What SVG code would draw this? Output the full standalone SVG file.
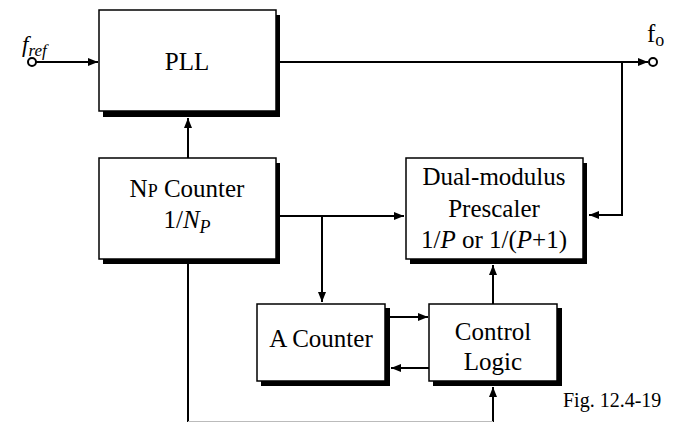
<svg xmlns="http://www.w3.org/2000/svg" width="673" height="422" viewBox="0 0 673 422">
<style>
.box{fill:#fff;stroke:#000;stroke-width:1.5}
.sh{fill:#000}
text{font-family:'Liberation Serif',serif;fill:#000}
.t{font-size:25px;text-anchor:middle}
.w{fill:none;stroke:#000;stroke-width:2}
.term{fill:#fff;stroke:#000;stroke-width:2}
</style>
<defs>
<marker id="ar" viewBox="0 0 10 8" refX="10" refY="4" markerWidth="10" markerHeight="8" markerUnits="userSpaceOnUse" orient="auto">
<path d="M0,0 L10,4 L0,8 Z" fill="#000"/>
</marker>
</defs>
<rect width="673" height="422" fill="#fff"/>
<g id="connectors">
<line class="w" x1="36" y1="62" x2="98" y2="62" marker-end="url(#ar)"/>
<line class="w" x1="276" y1="62" x2="648" y2="62" marker-end="url(#ar)"/>
<polyline class="w" points="622,62 622,215 589,215" marker-end="url(#ar)"/>
<line class="w" x1="188" y1="158" x2="188" y2="118" marker-end="url(#ar)"/>
<line class="w" x1="277" y1="216" x2="404" y2="216" marker-end="url(#ar)"/>
<line class="w" x1="322" y1="216" x2="322" y2="302" marker-end="url(#ar)"/>
<line class="w" x1="390" y1="317" x2="428" y2="317" marker-end="url(#ar)"/>
<line class="w" x1="429" y1="368" x2="391" y2="368" marker-end="url(#ar)"/>
<line class="w" x1="493" y1="304" x2="493" y2="265" marker-end="url(#ar)"/>
<line class="w" x1="493" y1="422" x2="493" y2="387" marker-end="url(#ar)"/>
<line class="w" x1="188" y1="264" x2="188" y2="422"/>
<line x1="188" y1="421.5" x2="493" y2="421.5" stroke="#bbb" stroke-width="1"/>
<circle class="term" cx="32" cy="62" r="4"/>
<circle class="term" cx="653" cy="62" r="4"/>
</g>
<g id="fref">
<text x="22" y="52" font-size="23" font-style="italic">f<tspan font-size="17" dy="4">ref</tspan></text>
</g>
<g id="fo">
<text x="647" y="42" font-size="25">f<tspan font-size="18" dy="4">o</tspan></text>
</g>
<g id="pll">
<rect class="sh" x="103" y="15" width="177" height="102"/>
<rect class="box" x="99" y="10" width="177" height="101"/>
<text class="t" x="187" y="70">PLL</text>
</g>
<g id="np-counter">
<rect class="sh" x="103" y="163" width="177" height="101"/>
<rect class="box" x="99" y="158" width="177" height="101"/>
<text class="t" x="187" y="197">N<tspan font-size="18">P</tspan> Counter</text>
<text class="t" x="187" y="228">1/<tspan font-style="italic">N</tspan><tspan font-style="italic" font-size="18" dy="5">P</tspan></text>
</g>
<g id="prescaler">
<rect class="sh" x="410" y="163" width="177" height="101"/>
<rect class="box" x="406" y="158" width="177" height="101"/>
<text class="t" x="494" y="185">Dual-modulus</text>
<text class="t" x="494" y="217">Prescaler</text>
<text class="t" x="494" y="248">1/<tspan font-style="italic">P</tspan> or 1/(<tspan font-style="italic">P</tspan>+1)</text>
</g>
<g id="a-counter">
<rect class="sh" x="261" y="308" width="129" height="78"/>
<rect class="box" x="257" y="304" width="128" height="77"/>
<text class="t" x="321" y="347">A Counter</text>
</g>
<g id="control-logic">
<rect class="sh" x="433" y="308" width="129" height="78"/>
<rect class="box" x="429" y="304" width="128" height="77"/>
<text class="t" x="493" y="340">Control</text>
<text class="t" x="493" y="370">Logic</text>
</g>
<g id="caption">
<text x="563" y="407" font-size="20">Fig. 12.4-19</text>
</g>
</svg>
